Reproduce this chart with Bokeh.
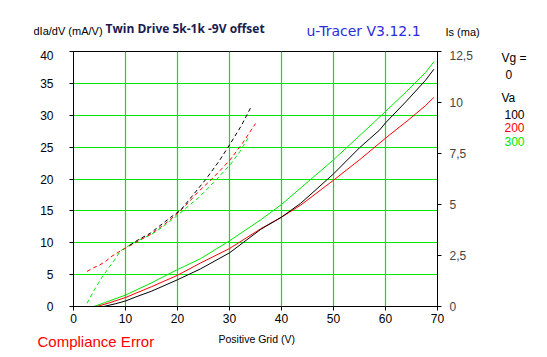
from bokeh.plotting import figure
from bokeh.layouts import column, row
from bokeh.models import Range1d, LinearAxis, SingleIntervalTicker, FixedTicker
from bokeh.core.properties import value
from bokeh.embed import file_html
from bokeh.resources import INLINE

# ---- data ----
# Screen current Is (mA, right axis) vs positive grid voltage
is_v_100 = [5.8, 8, 10, 12, 15, 20, 24.4, 30, 36, 40, 43.7, 50, 55, 58.9, 60, 64, 67.7, 69.3]
is_100 = [0, 0.13, 0.27, 0.47, 0.75, 1.31, 1.84, 2.63, 3.78, 4.38, 5.06, 6.5, 7.78, 8.66, 9.0, 10.06, 11.09, 11.63]

is_v_200 = [4.5, 7, 10, 15, 20, 24.4, 30, 36, 40, 43.7, 50, 55, 60, 62.2, 64.2, 67.7, 69.3]
is_200 = [0, 0.19, 0.44, 0.97, 1.53, 2.13, 2.84, 3.81, 4.38, 4.97, 6.19, 7.19, 8.25, 8.7, 9.1, 9.85, 10.25]

is_v_300 = [3.9, 6, 10, 15, 20, 24.4, 30, 36, 40, 43, 50, 57, 60, 64, 67.7, 69.3]
is_300 = [0, 0.19, 0.56, 1.16, 1.81, 2.34, 3.22, 4.25, 5.0, 5.66, 7.19, 8.84, 9.56, 10.53, 11.47, 12.0]

# dIa/dV (mA/V, left axis)
gm_v_100 = [10.8, 12.5, 14.8, 16.5, 18.7, 20.6, 22.8, 25.4, 28, 30.2, 32.3, 34.2]
gm_100 = [9.6, 10.5, 11.5, 12.6, 14.0, 15.1, 17.3, 19.9, 22.8, 25.6, 28.4, 31.4]

gm_v_200 = [2.6, 3.9, 5.0, 6.2, 7.4, 9.0, 11.0, 13.0, 15.0, 17.5, 20.0, 22.0, 24.0, 27.0, 30.1, 32.5, 35.0]
gm_200 = [5.5, 6.1, 6.5, 7.1, 7.9, 8.7, 9.6, 10.5, 11.4, 12.9, 14.6, 16.2, 18.0, 20.3, 23.0, 25.6, 28.7]

gm_v_300 = [2.6, 4.0, 5.5, 6.7, 7.8, 9.0, 10.5, 12.5, 15.0, 17.5, 20.0, 22.0, 24.1, 27.0, 30.2, 32.0, 33.7]
gm_300 = [0.5, 2.6, 4.6, 6.0, 7.2, 8.7, 9.5, 10.4, 11.3, 12.7, 14.3, 15.7, 17.1, 19.5, 22.3, 24.3, 26.6]

right_ticks = [0, 2.5, 5, 7.5, 10, 12.5]
right_labels = ["0", "2,5", "5", "7,5", "10", "12,5"]
legend_va = ["100", "200", "300"]

BLACK = "#000000"
RED = "#ff0000"
GREEN = "#00e800"
TICK_FONT = "Liberation Sans"

W, H = 547, 357
TOP_H = 50
MAIN_W = 490
MAIN_H = 278
BOT_H = H - TOP_H - MAIN_H

# ---- main chart ----
p = figure(width=MAIN_W, height=MAIN_H, x_range=Range1d(0, 70), y_range=Range1d(0, 40),
           output_backend="svg", toolbar_location=None,
           min_border_left=73, min_border_right=MAIN_W - 437, min_border_top=1,
           min_border_bottom=MAIN_H - 256)
p.background_fill_color = "white"
p.border_fill_color = "white"
p.outline_line_color = "black"
p.outline_line_width = 1

p.extra_y_ranges = {"is": Range1d(0, 12.5)}

p.xaxis.ticker = SingleIntervalTicker(interval=10)
p.yaxis.ticker = SingleIntervalTicker(interval=5)
for ax in (p.xaxis[0], p.yaxis[0]):
    ax.minor_tick_line_color = None
    ax.major_tick_out = 4
    ax.major_tick_in = 0
    ax.axis_line_color = "black"
    ax.major_tick_line_color = "black"
    ax.major_label_text_font = TICK_FONT
    ax.major_label_text_font_size = "12px"
    ax.major_label_text_color = "black"
p.yaxis.major_label_standoff = 16
p.xaxis.major_label_standoff = 3

rax = LinearAxis(y_range_name="is", ticker=FixedTicker(ticks=right_ticks),
                 major_label_overrides={t: l for t, l in zip(right_ticks, right_labels)})
rax.minor_tick_line_color = None
rax.major_tick_out = 4
rax.major_tick_in = 0
rax.major_label_standoff = 8
rax.major_label_text_font = TICK_FONT
rax.major_label_text_font_size = "12px"
rax.axis_line_color = "black"
p.add_layout(rax, "right")

p.xgrid.grid_line_color = GREEN
p.ygrid.grid_line_color = GREEN
p.xgrid.grid_line_width = 1.2
p.ygrid.grid_line_width = 1.2

# Is curves (solid)
p.line(is_v_300, is_300, y_range_name="is", line_color=GREEN, line_width=1)
p.line(is_v_200, is_200, y_range_name="is", line_color=RED, line_width=1)
p.line(is_v_100, is_100, y_range_name="is", line_color=BLACK, line_width=1)

# dIa/dV curves (dashed)
p.line(gm_v_300, gm_300, line_color=GREEN, line_width=1, line_dash="4 3")
p.line(gm_v_200, gm_200, line_color=RED, line_width=1, line_dash="4 3")
p.line(gm_v_100, gm_100, line_color=BLACK, line_width=1, line_dash="4 3")


# ---- text strips (pixel coordinates, y from the strip's top) ----
def strip(w, h):
    s = figure(width=w, height=h, x_range=Range1d(0, w), y_range=Range1d(h, 0),
               output_backend="svg", toolbar_location=None,
               x_axis_type=None, y_axis_type=None,
               min_border_left=0, min_border_right=0, min_border_top=0, min_border_bottom=0)
    s.outline_line_color = None
    s.xgrid.visible = False
    s.ygrid.visible = False
    s.background_fill_color = "white"
    s.border_fill_color = "white"
    return s


def txt(s, x, y, text, size="12px", color="black", font="Liberation Sans", style="normal"):
    s.text(x=[x], y=[y], text=[text], text_font=value(font), text_font_size=size,
           text_color=color, text_font_style=style, text_baseline="middle", text_align="left")


top = strip(W, TOP_H)
txt(top, 33, 30.5, "dIa/dV (mA/V)", size="11px")
txt(top, 105, 27.5, "Twin Drive 5k-1k -9V offset", size="12px", color="#1a1a50",
    font="Open Sans", style="bold")
txt(top, 306, 30, "u-Tracer V3.12.1", size="14px", color="#2b2be0", font="DejaVu Sans")
txt(top, 445, 31, "Is (ma)", size="11px")

side = strip(W - MAIN_W, MAIN_H)
ox = MAIN_W
oy = TOP_H
txt(side, 501 - ox, 57.5 - oy, "Vg =", size="12px")
txt(side, 505 - ox, 75.5 - oy, "0", size="12px")
txt(side, 501 - ox, 101 - oy, "Va", size="12px")
txt(side, 504 - ox, 119 - oy, legend_va[0], size="12px", color=BLACK)
txt(side, 504 - ox, 133 - oy, legend_va[1], size="12px", color=RED)
txt(side, 504 - ox, 148 - oy, legend_va[2], size="12px", color=GREEN)

bot = strip(W, BOT_H)
by = TOP_H + MAIN_H
txt(bot, 218, 338 - by, "Positive Grid (V)", size="10.5px")
txt(bot, 37, 341 - by, "Compliance Error", size="15px", color=RED)

layout = column(top, row(p, side), bot)

open("out.html", "w").write(file_html(layout, INLINE))
